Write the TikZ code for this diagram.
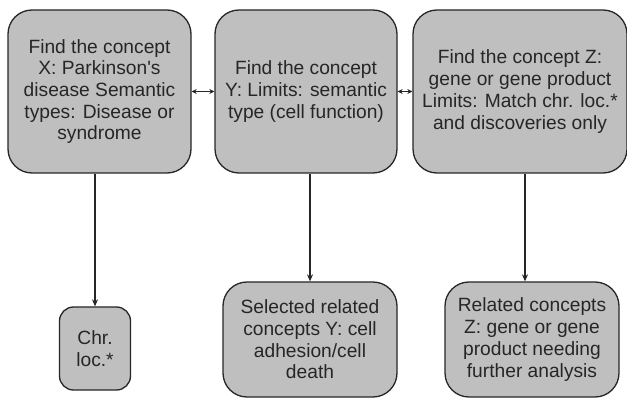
\documentclass[tikz,border=0pt]{standalone}
\usepackage{fontspec}
\setmainfont{Liberation Sans}
\newfontfamily\plainquote{Liberation Sans}
\usetikzlibrary{arrows.meta}
\definecolor{boxfill}{HTML}{BFBFBF}
\definecolor{ink}{HTML}{262626}
\begin{document}
\begin{tikzpicture}[x=1pt,y=-1pt,
  box/.style={draw=ink, line width=1.3pt, fill=boxfill, rounded corners=24pt,
    align=center, text=ink, inner sep=0pt,
    font=\fontsize{19.2}{21.7}\selectfont},
  arr/.style={draw=ink, line width=1.6pt, -{Stealth[length=7pt,width=6pt]}},
  harr/.style={draw=ink, line width=1.4pt, {Stealth[length=5pt,width=5pt]}-{Stealth[length=5pt,width=5pt]}}]
\useasboundingbox (0,0) rectangle (627,398);
\node[box, minimum width=183pt, minimum height=163pt] (b1) at (99.5,91.5)
  {Find the concept\\X: Parkinson{\plainquote'}s\\disease Semantic\\types: Disease or\\syndrome};
\node[box, minimum width=182pt, minimum height=163pt] (b2) at (306,91.5)
  {Find the concept\\Y: Limits: semantic\\type (cell function)};
\node[box, minimum width=214pt, minimum height=163pt] (b3) at (520,91.5)
  {Find the concept Z:\\gene or gene product\\Limits: Match chr. loc.*\\and discoveries only};
\node[box, rounded corners=14pt, minimum width=71pt, minimum height=83pt] (c1) at (95,348.5)
  {Chr.\\loc.*};
\node[box, minimum width=174pt, minimum height=115pt] (c2) at (310,339.5)
  {Selected related\\concepts Y: cell\\adhesion/cell\\death};
\node[box, minimum width=174pt, minimum height=115pt] (c3) at (532,339.5)
  {Related concepts\\Z: gene or gene\\product needing\\further analysis};
\draw[harr] (b1.east) -- (b2.west);
\draw[harr] (b2.east) -- (b3.west);
\draw[arr] (c1.north |- b1.south) -- (c1.north);
\draw[arr] (c2.north |- b2.south) -- (c2.north);
\draw[arr] ([xshift=5pt]b3.south) -- ([xshift=-7pt]c3.north);
\end{tikzpicture}
\end{document}
